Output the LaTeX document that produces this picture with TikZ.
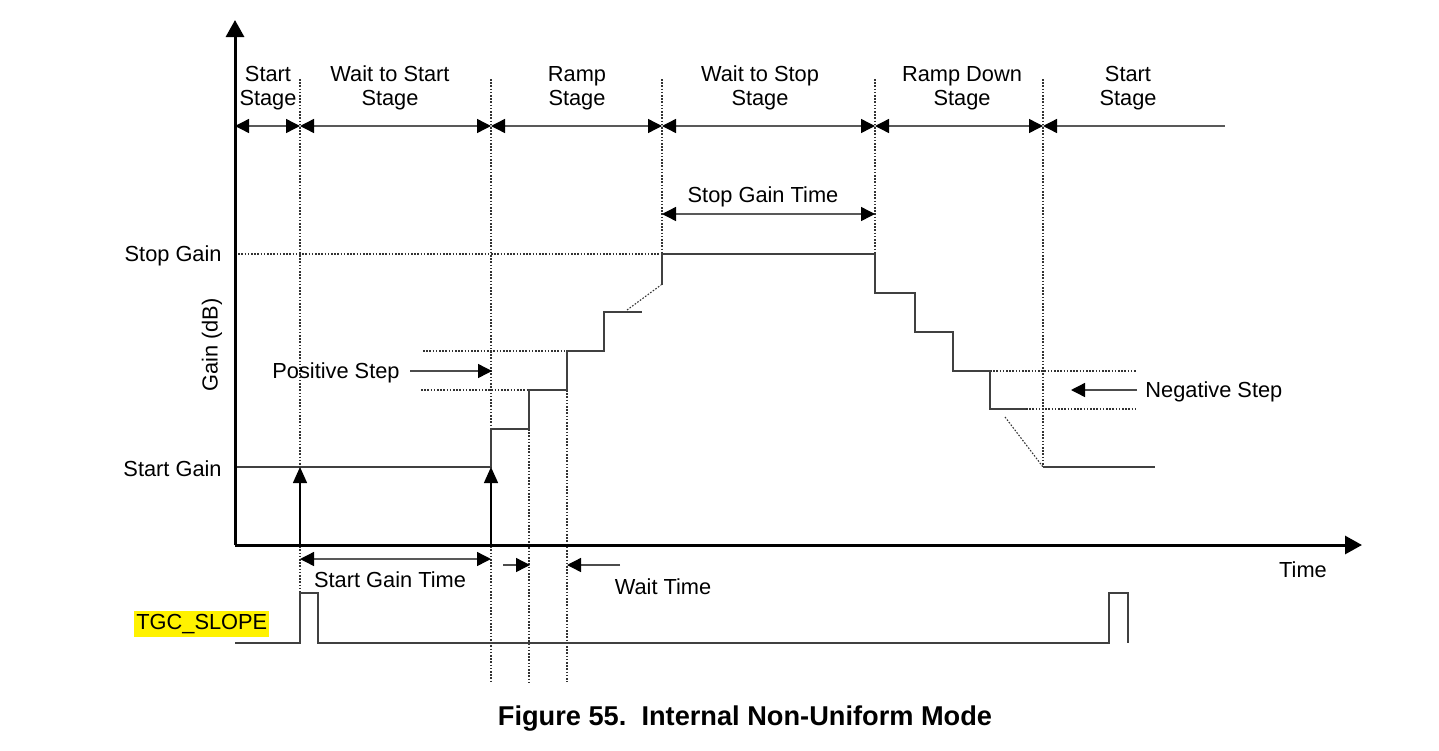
\documentclass[tikz,border=0pt]{standalone}
\usepackage{fontspec}
\setmainfont{Liberation Sans}
\usetikzlibrary{arrows.meta}
\begin{document}
\begin{tikzpicture}[x=0.5pt,y=-0.5pt,
  lbl/.style={font=\fontsize{10.9}{12}\selectfont, inner sep=0pt, text=black},
  stg/.style={lbl, align=center},
  axisline/.style={line width=1.5pt, draw=black, -{Triangle[length=8.5pt,width=9pt]}},
  sig/.style={line width=0.7pt, draw=black!75},
  guide/.style={line width=0.55pt, draw=black!80, dash pattern=on 0.8pt off 0.8pt},
  dimboth/.style={line width=0.7pt, draw=black!65, {Triangle[length=7pt,width=7pt,color=black]}-{Triangle[length=7pt,width=7pt,color=black]}},
  dimleft/.style={line width=0.7pt, draw=black!65, {Triangle[length=7pt,width=7pt,color=black]}-},
  pointer/.style={line width=0.7pt, draw=black!70, -{Triangle[length=7pt,width=7pt,color=black]}},
  uparrow/.style={line width=0.7pt, draw=black, -{Triangle[length=8pt,width=7pt]}}
]
\useasboundingbox (0,0) rectangle (1439,750);

% axes
\coordinate (O) at (235,545);
\coordinate (ytop) at (235,20);
\coordinate (xend) at (1362,545);

% stage boundaries
\coordinate (b0) at (235,126);
\coordinate (b1) at (300,126);
\coordinate (b2) at (491,126);
\coordinate (b3) at (662,126);
\coordinate (b4) at (875,126);
\coordinate (b5) at (1043,126);
\coordinate (b6) at (1225,126);

% dotted guides (vertical)
\draw[guide] (300,79) -- (300,593);
\draw[guide] (491,79) -- (491,682);
\draw[guide] (529,429) -- (529,682);
\draw[guide] (567,390) -- (567,682);
\draw[guide] (662,79) -- (662,254);
\draw[guide] (875,79) -- (875,254);
\draw[guide] (1043,79) -- (1043,467);

% dotted guides (horizontal)
\draw[guide] (235,254) -- (662,254);
\draw[guide] (423,351) -- (567,351);
\draw[guide] (421,390) -- (529,390);
\draw[guide] (990,371) -- (1137,371);
\draw[guide] (1026,409) -- (1137,409);
\draw[guide] (627,310) -- (661,285);
\draw[guide] (1005,417) -- (1043,467);

% gain curve
\draw[sig] (235,467) -- (491,467) -- (491,429) -- (529,429) -- (529,390) -- (567,390) -- (567,351) -- (604,351) -- (604,312) -- (642,312);
\draw[sig] (662,285) -- (662,254) -- (875,254) -- (875,293) -- (915,293) -- (915,332) -- (953,332) -- (953,371) -- (990,371) -- (990,409) -- (1026,409);
\draw[sig] (1043,467) -- (1155,467);

% start arrows
\coordinate (a1s) at (300,545);
\coordinate (a1e) at (300,467);
\coordinate (a2s) at (491,545);
\coordinate (a2e) at (491,467);
\draw[uparrow] (a1s) -- (a1e);
\draw[uparrow] (a2s) -- (a2e);

% axes drawn
\draw[axisline] (O) -- (ytop);
\draw[axisline] (O) -- (xend);

% stage arrows
\draw[dimboth] (b0) -- (b1);
\draw[dimboth] (b1) -- (b2);
\draw[dimboth] (b2) -- (b3);
\draw[dimboth] (b3) -- (b4);
\draw[dimboth] (b4) -- (b5);
\draw[dimleft] (b5) -- (b6);

% stage labels
\node[stg] (l1) at (268,88) {Start\\Stage};
\node[stg] (l2) at (390,88) {Wait to Start\\Stage};
\node[stg] (l3) at (577,88) {Ramp\\Stage};
\node[stg] (l4) at (760,88) {Wait to Stop\\Stage};
\node[stg] (l5) at (962,88) {Ramp Down\\Stage};
\node[stg] (l6) at (1128,88) {Start\\Stage};

% stop gain time
\coordinate (sg1) at (662,214);
\coordinate (sg2) at (875,214);
\draw[dimboth] (sg1) -- (sg2);
\node[lbl] (sgt) at (763,197) {Stop Gain Time};

% y labels
\node[lbl, anchor=east] (stopg) at (222,256) {Stop Gain};
\node[lbl, anchor=east] (startg) at (222,469) {Start Gain};
\node[lbl, rotate=90] (gain) at (212,345) {Gain (dB)};

% positive step
\node[lbl, anchor=east] (pos) at (400,373) {Positive Step};
\coordinate (p1) at (410,371);
\coordinate (p2) at (492,371);
\draw[pointer] (p1) -- (p2);

% negative step
\node[lbl, anchor=west] (neg) at (1145,392) {Negative Step};
\coordinate (n1) at (1137,390);
\coordinate (n2) at (1071,390);
\draw[pointer] (n1) -- (n2);

% start gain time
\coordinate (st1) at (300,559);
\coordinate (st2) at (491,559);
\draw[dimboth] (st1) -- (st2);
\node[lbl] (sgtime) at (390,580) {Start Gain Time};

% wait time
\coordinate (w1) at (503,565);
\coordinate (w2) at (530,565);
\coordinate (w3) at (620,565);
\coordinate (w4) at (567,565);
\draw[pointer] (w1) -- (w2);
\draw[pointer] (w3) -- (w4);
\node[lbl] (wt) at (663,587) {Wait Time};

% time label
\node[lbl] (time) at (1303,570) {Time};

% TGC_SLOPE
\node[lbl, anchor=west, fill=yellow, inner xsep=1pt, inner ysep=1.5pt] (tgc) at (134,624) {TGC\_SLOPE};
\draw[sig] (235,643) -- (300,643) -- (300,593) -- (318,593) -- (318,643) -- (1109,643) -- (1109,593) -- (1128,593) -- (1128,643);

% caption
\node[font=\bfseries\fontsize{13.6}{16}\selectfont, inner sep=0pt] (cap) at (745,719) {Figure 55.\ \ Internal Non-Uniform Mode};
\end{tikzpicture}
\end{document}
